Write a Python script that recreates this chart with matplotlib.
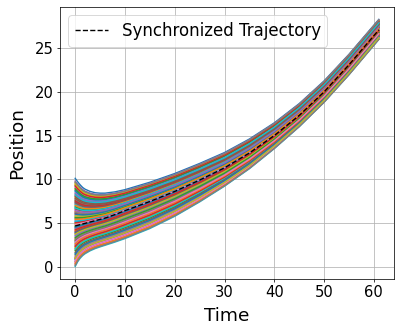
import matplotlib
matplotlib.use('Agg')
import matplotlib.pyplot as plt
import numpy as np

# time samples
times = [0, 0.5, 1, 1.5, 2, 3, 4, 5, 6, 8, 10, 15, 20, 25, 30, 35, 40, 45, 50, 55, 61]
# synchronized (dashed) trajectory
sync = [4.65, 4.72, 4.8, 4.87, 4.95, 5.1, 5.25, 5.4, 5.55, 5.95, 6.4, 7.45, 8.6,
        9.9, 11.3, 13.0, 15.0, 17.3, 20.0, 23.1, 27.1]
# upper and lower edge of the band of agents
upper = [10.1, 9.7, 9.35, 9.05, 8.85, 8.6, 8.45, 8.4, 8.4, 8.55, 8.8, 9.65, 10.65,
         11.8, 13.05, 14.6, 16.45, 18.65, 21.25, 24.3, 28.3]
lower = [0.0, 0.55, 0.95, 1.25, 1.47, 1.8, 2.05, 2.25, 2.43, 2.8, 3.2, 4.35, 5.75,
         7.4, 9.2, 11.2, 13.5, 16.0, 18.8, 21.95, 26.0]
# starting positions of the agents
x0 = [10.1, 3.2, 7.6, 0.4, 5.8, 2.1, 6.5, 8.3, 4.9, 0.0,
      2.7, 8.8, 0.9, 6.1, 4.3, 9.6, 1.2, 5.5, 7.9, 3.6,
      5.1, 1.9, 9.3, 3.8, 7.2, 0.6, 8.5, 2.4, 4.7, 6.9,
      7.4, 4.1, 2.9, 8.1, 0.2, 6.6, 3.4, 9.0, 5.7, 1.5,
      0.8, 6.3, 4.6, 1.0, 9.8, 3.0, 5.3, 7.7, 2.2, 8.6,
      3.9, 9.4, 6.8, 5.0, 2.5, 8.0, 0.5, 4.4, 1.3, 7.1,
      8.7, 0.3, 1.8, 7.5, 3.5, 4.0, 9.1, 6.2, 5.9, 2.0,
      4.5, 7.0, 5.6, 2.3, 8.4, 1.6, 0.7, 3.1, 9.5, 6.7,
      6.0, 2.6, 8.9, 9.2, 1.1, 7.8, 4.8, 0.1, 3.7, 5.2,
      1.4, 5.4, 3.3, 4.2, 6.4, 7.3, 2.8, 9.7, 0.95, 8.2]

t = np.array(times)
s = np.array(sync)
up = np.array(upper)
lo = np.array(lower)

fig = plt.figure(figsize=(6, 5.01), dpi=66.67)
ax = fig.add_axes([0.15, 0.165, 0.835, 0.814])

for p in x0:
    if p >= s[0]:
        frac = (p - s[0]) / (up[0] - s[0])
        y = s + frac * (up - s)
    else:
        frac = (s[0] - p) / (s[0] - lo[0])
        y = s + frac * (lo - s)
    ax.plot(t, y, linewidth=1.5)

ax.plot(t, s, 'k--', linewidth=1.5, label='Synchronized Trajectory')

ax.set_xlabel('Time', fontsize=20, labelpad=7)
ax.set_ylabel('Position', fontsize=20, labelpad=9)
ax.tick_params(labelsize=16)
ax.legend(fontsize=18, loc='upper left')
ax.grid(True)

plt.savefig('out.png', dpi=66.67)
plt.close()
